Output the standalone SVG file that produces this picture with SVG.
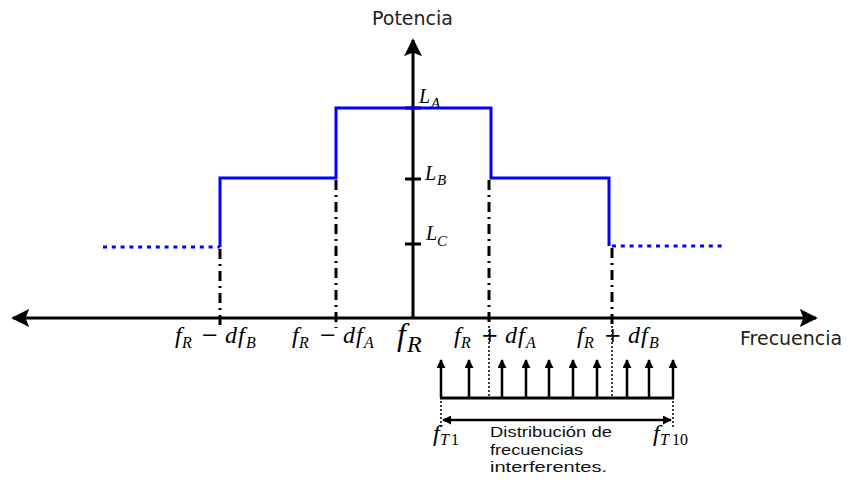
<svg xmlns="http://www.w3.org/2000/svg" width="848" height="481" viewBox="0 0 848 481">
<defs>
<marker id="ahb" viewBox="0 0 10 10" refX="9" refY="5" markerWidth="18" markerHeight="18" markerUnits="userSpaceOnUse" orient="auto-start-reverse"><path d="M0,0 L10,5 L0,10 L2,5 z" fill="#000"/></marker>
<marker id="ahs" viewBox="0 0 10 10" refX="9" refY="5" markerWidth="9" markerHeight="9" markerUnits="userSpaceOnUse" orient="auto-start-reverse"><path d="M0,0 L10,5 L0,10 z" fill="#000"/></marker>
</defs>
<style>
.lbl{font-family:"DejaVu Sans",Verdana,sans-serif;font-size:19px;fill:#222}
.m{font-family:"Liberation Serif",serif;font-style:italic;fill:#000;font-size:24px}
.m .sb{font-size:16px}
.m .op{font-family:"DejaVu Serif",serif;font-style:normal;font-size:21px}
.m .up{font-style:normal}
.L{font-size:20px}
.L .sb{font-size:15px}
.s{font-family:"Liberation Sans",Arial,sans-serif;font-size:15.5px;fill:#111}
.blue{stroke:#0000ff;stroke-width:3;fill:none}
.dd{stroke:#000;stroke-width:3;stroke-dasharray:10,5,2,5;fill:none}
.dot{stroke:#000;stroke-width:1.5;stroke-dasharray:2,2;fill:none}
.ax{stroke:#000;stroke-width:3;fill:none}
.ar{stroke:#000;stroke-width:2.5;fill:none}
</style>
<g id="axes">
<line class="ax" x1="816" y1="318" x2="13" y2="318" marker-end="url(#ahb)" marker-start="url(#ahb)"/>
<line class="ax" x1="413" y1="318" x2="413" y2="40" marker-end="url(#ahb)"/>
<line class="ax" x1="405" y1="108" x2="421" y2="108"/>
<line class="ax" x1="405" y1="179" x2="421" y2="179"/>
<line class="ax" x1="405" y1="244" x2="421" y2="244"/>
</g>
<g id="spectrum">
<polyline class="blue" points="220,247 220,178 336,178 336,108 491,108 491,178 609,178 609,246"/>
<line class="blue" x1="103" y1="247" x2="220" y2="247" stroke-dasharray="4,4.8"/>
<line class="blue" x1="612" y1="246" x2="722" y2="246" stroke-dasharray="4,4.8"/>
</g>
<g id="connectors">
<line class="dd" x1="220" y1="249" x2="220" y2="326"/>
<line class="dd" x1="336" y1="180" x2="336" y2="328"/>
<line class="dd" x1="489" y1="180" x2="489" y2="326"/>
<line class="dd" x1="612" y1="248" x2="612" y2="326"/>
<line class="dot" x1="489" y1="326" x2="489" y2="397"/>
<line class="dot" x1="612" y1="326" x2="612" y2="397"/>
<line class="dot" x1="441" y1="397" x2="441" y2="428"/>
<line class="dot" x1="673" y1="397" x2="673" y2="428"/>
</g>
<g id="interferers">
<line x1="440" y1="398" x2="674" y2="398" stroke="#000" stroke-width="3"/>
<line class="ar" x1="441" y1="398" x2="441" y2="360" marker-end="url(#ahs)"/>
<line class="ar" x1="469" y1="398" x2="469" y2="360" marker-end="url(#ahs)"/>
<line class="ar" x1="502" y1="398" x2="502" y2="360" marker-end="url(#ahs)"/>
<line class="ar" x1="526" y1="398" x2="526" y2="360" marker-end="url(#ahs)"/>
<line class="ar" x1="549" y1="398" x2="549" y2="360" marker-end="url(#ahs)"/>
<line class="ar" x1="573" y1="398" x2="573" y2="360" marker-end="url(#ahs)"/>
<line class="ar" x1="597" y1="398" x2="597" y2="360" marker-end="url(#ahs)"/>
<line class="ar" x1="627" y1="398" x2="627" y2="360" marker-end="url(#ahs)"/>
<line class="ar" x1="649" y1="398" x2="649" y2="360" marker-end="url(#ahs)"/>
<line class="ar" x1="673" y1="398" x2="673" y2="360" marker-end="url(#ahs)"/>
<line class="ar" x1="443" y1="420" x2="671" y2="420" marker-end="url(#ahs)" marker-start="url(#ahs)"/>
</g>
<g id="labels">
<text class="lbl" x="372" y="25">Potencia</text>
<text class="lbl" x="740" y="345">Frecuencia</text>
<text class="m L"><tspan x="419" y="103">L</tspan><tspan class="sb" x="431" y="108">A</tspan></text>
<text class="m L"><tspan x="425" y="180">L</tspan><tspan class="sb" x="437" y="185">B</tspan></text>
<text class="m L"><tspan x="426" y="240">L</tspan><tspan class="sb" x="437" y="246">C</tspan></text>
<text class="m"><tspan x="175" y="343">f</tspan><tspan class="sb" x="182" y="348">R</tspan><tspan class="op" x="201" y="342">−</tspan><tspan x="225" y="343">d</tspan><tspan x="238" y="343">f</tspan><tspan class="sb" x="246" y="348">B</tspan></text>
<text class="m"><tspan x="292" y="343">f</tspan><tspan class="sb" x="299" y="348">R</tspan><tspan class="op" x="319" y="342">−</tspan><tspan x="343" y="343">d</tspan><tspan x="356" y="343">f</tspan><tspan class="sb" x="364" y="348">A</tspan></text>
<text class="m" style="font-size:32px"><tspan x="397" y="345">f</tspan><tspan style="font-size:24px" x="407" y="352">R</tspan></text>
<text class="m"><tspan x="454" y="343">f</tspan><tspan class="sb" x="461" y="348">R</tspan><tspan class="op" x="481" y="342">+</tspan><tspan x="505" y="343">d</tspan><tspan x="518" y="343">f</tspan><tspan class="sb" x="526" y="348">A</tspan></text>
<text class="m"><tspan x="577" y="343">f</tspan><tspan class="sb" x="584" y="348">R</tspan><tspan class="op" x="604" y="342">+</tspan><tspan x="628" y="343">d</tspan><tspan x="641" y="343">f</tspan><tspan class="sb" x="649" y="348">B</tspan></text>
<text class="m"><tspan x="433" y="441">f</tspan><tspan class="sb" x="440" y="445">T</tspan><tspan class="sb up" x="451" y="445">1</tspan></text>
<text class="m"><tspan x="653" y="441">f</tspan><tspan class="sb" x="660" y="445">T</tspan><tspan class="sb up" x="672" y="445">10</tspan></text>
<text class="s" x="490" y="437" textLength="122" lengthAdjust="spacingAndGlyphs">Distribución de</text>
<text class="s" x="490" y="455" textLength="93" lengthAdjust="spacingAndGlyphs">frecuencias</text>
<text class="s" x="490" y="472" textLength="117" lengthAdjust="spacingAndGlyphs">interferentes.</text>
</g>
</svg>
